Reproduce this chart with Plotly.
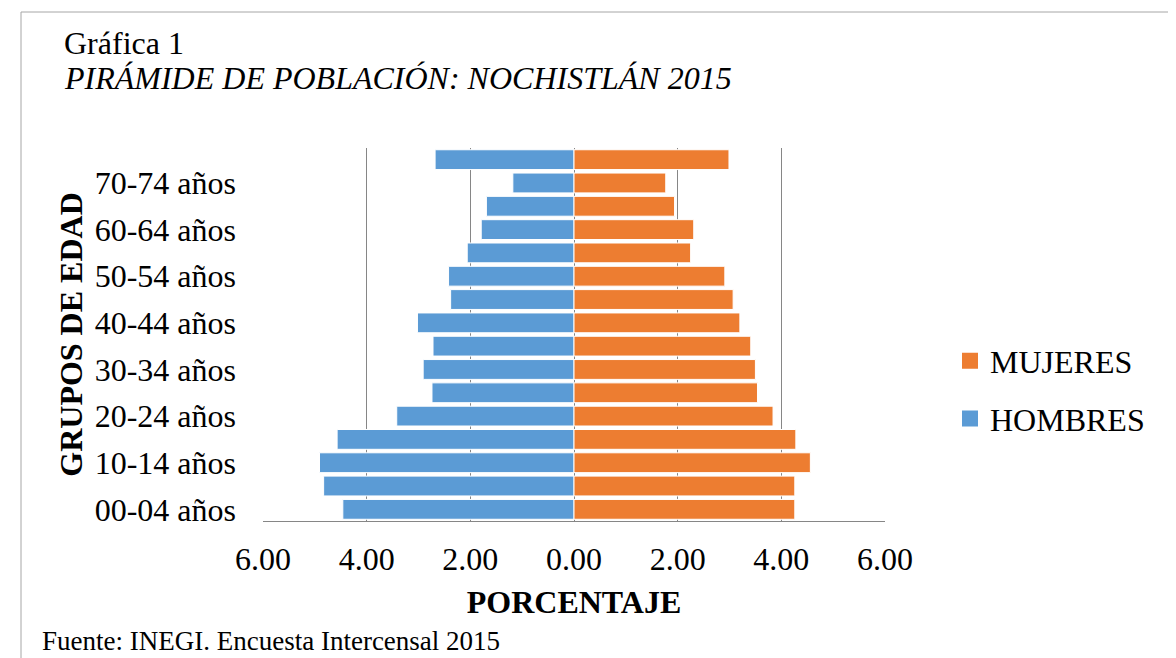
import plotly.graph_objects as go

grupos = ["00-04 años", "05-09 años", "10-14 años", "15-19 años", "20-24 años",
          "25-29 años", "30-34 años", "35-39 años", "40-44 años", "45-49 años",
          "50-54 años", "55-59 años", "60-64 años", "65-69 años", "70-74 años",
          "75 años y más"]
hombres = [4.46, 4.83, 4.91, 4.57, 3.42, 2.74, 2.91, 2.72, 3.02, 2.38,
           2.42, 2.06, 1.79, 1.69, 1.18, 2.68]
mujeres = [4.26, 4.26, 4.56, 4.28, 3.84, 3.54, 3.50, 3.41, 3.20, 3.07,
           2.91, 2.25, 2.31, 1.94, 1.77, 2.99]
xticks = [-6, -4, -2, 0, 2, 4, 6]
xticktext = ["6.00", "4.00", "2.00", "0.00", "2.00", "4.00", "6.00"]
shown_labels = grupos[0::2]

FONT = "Liberation Serif, Times New Roman, serif"
AZUL = "#5B9BD5"
NARANJA = "#ED7D31"

# plot area in figure pixels (page body adds an 8px offset)
L, T, W, H = 255, 140, 622, 373
def px(x):
    return (x - 8 - L) / W
def py(y):
    return (T + H - (y - 8)) / H

fig = go.Figure()
fig.add_trace(go.Bar(
    y=grupos, x=[-v for v in hombres], orientation="h", name="HOMBRES",
    marker=dict(color=AZUL, line=dict(color="white", width=1)),
    showlegend=False,
))
fig.add_trace(go.Bar(
    y=grupos, x=mujeres, orientation="h", name="MUJERES",
    marker=dict(color=NARANJA, line=dict(color="white", width=1)),
    showlegend=False,
))
# legend entries with larger square keys (MUJERES listed first)
fig.add_trace(go.Scatter(x=[None], y=[None], mode="markers", name="MUJERES",
                         marker=dict(symbol="square", size=16, color=NARANJA),
                         legendgroup="m", showlegend=True))
fig.add_trace(go.Scatter(x=[None], y=[None], mode="markers", name="HOMBRES",
                         marker=dict(symbol="square", size=16, color=AZUL),
                         legendgroup="h", showlegend=True))

fig.update_layout(
    width=1176, height=658,
    margin=dict(l=L, r=1176 - L - W, t=T, b=658 - T - H, pad=0),
    paper_bgcolor="white", plot_bgcolor="white",
    barmode="overlay", bargap=0.15,
    font=dict(family=FONT, size=32, color="black"),
    showlegend=True,
    legend=dict(x=px(950), y=py(390), xanchor="left", yanchor="middle",
                traceorder="grouped", tracegroupgap=13, itemwidth=30,
                font=dict(size=32), bgcolor="rgba(0,0,0,0)"),
    xaxis=dict(
        range=[-6, 6], tickvals=xticks, ticktext=xticktext,
        showgrid=True, gridcolor="#868686", gridwidth=1,
        zeroline=False, showline=True, linecolor="#868686", linewidth=1,
        ticks="", ticklabelstandoff=10,
        title=dict(text="<b>PORCENTAJE</b>", font=dict(size=32), standoff=14),
    ),
    yaxis=dict(
        categoryorder="array", categoryarray=grupos,
        tickvals=shown_labels, ticktext=shown_labels,
        showgrid=False, zeroline=False, showline=False, ticks="",
        ticklabelstandoff=26,
        title=dict(text="<b>GRUPOS DE EDAD</b>", font=dict(size=32), standoff=2),
    ),
)

fig.add_annotation(text="Gráfica 1", xref="paper", yref="paper",
                   x=px(62), y=py(43), xanchor="left", yanchor="middle",
                   showarrow=False, font=dict(size=32))
fig.add_annotation(text="<i>PIRÁMIDE DE POBLACIÓN: NOCHISTLÁN 2015</i>", xref="paper", yref="paper",
                   x=px(62), y=py(78), xanchor="left", yanchor="middle",
                   showarrow=False, font=dict(size=32))
fig.add_annotation(text="Fuente: INEGI. Encuesta Intercensal 2015", xref="paper", yref="paper",
                   x=px(40), y=py(641), xanchor="left", yanchor="middle",
                   showarrow=False, font=dict(size=27))

fig.add_shape(type="rect", xref="paper", yref="paper",
              x0=px(21), x1=px(1300),
              y0=py(800), y1=py(12),
              line=dict(color="#A6A6A6", width=1), fillcolor="rgba(0,0,0,0)", layer="below")

fig.write_html("out.html")
